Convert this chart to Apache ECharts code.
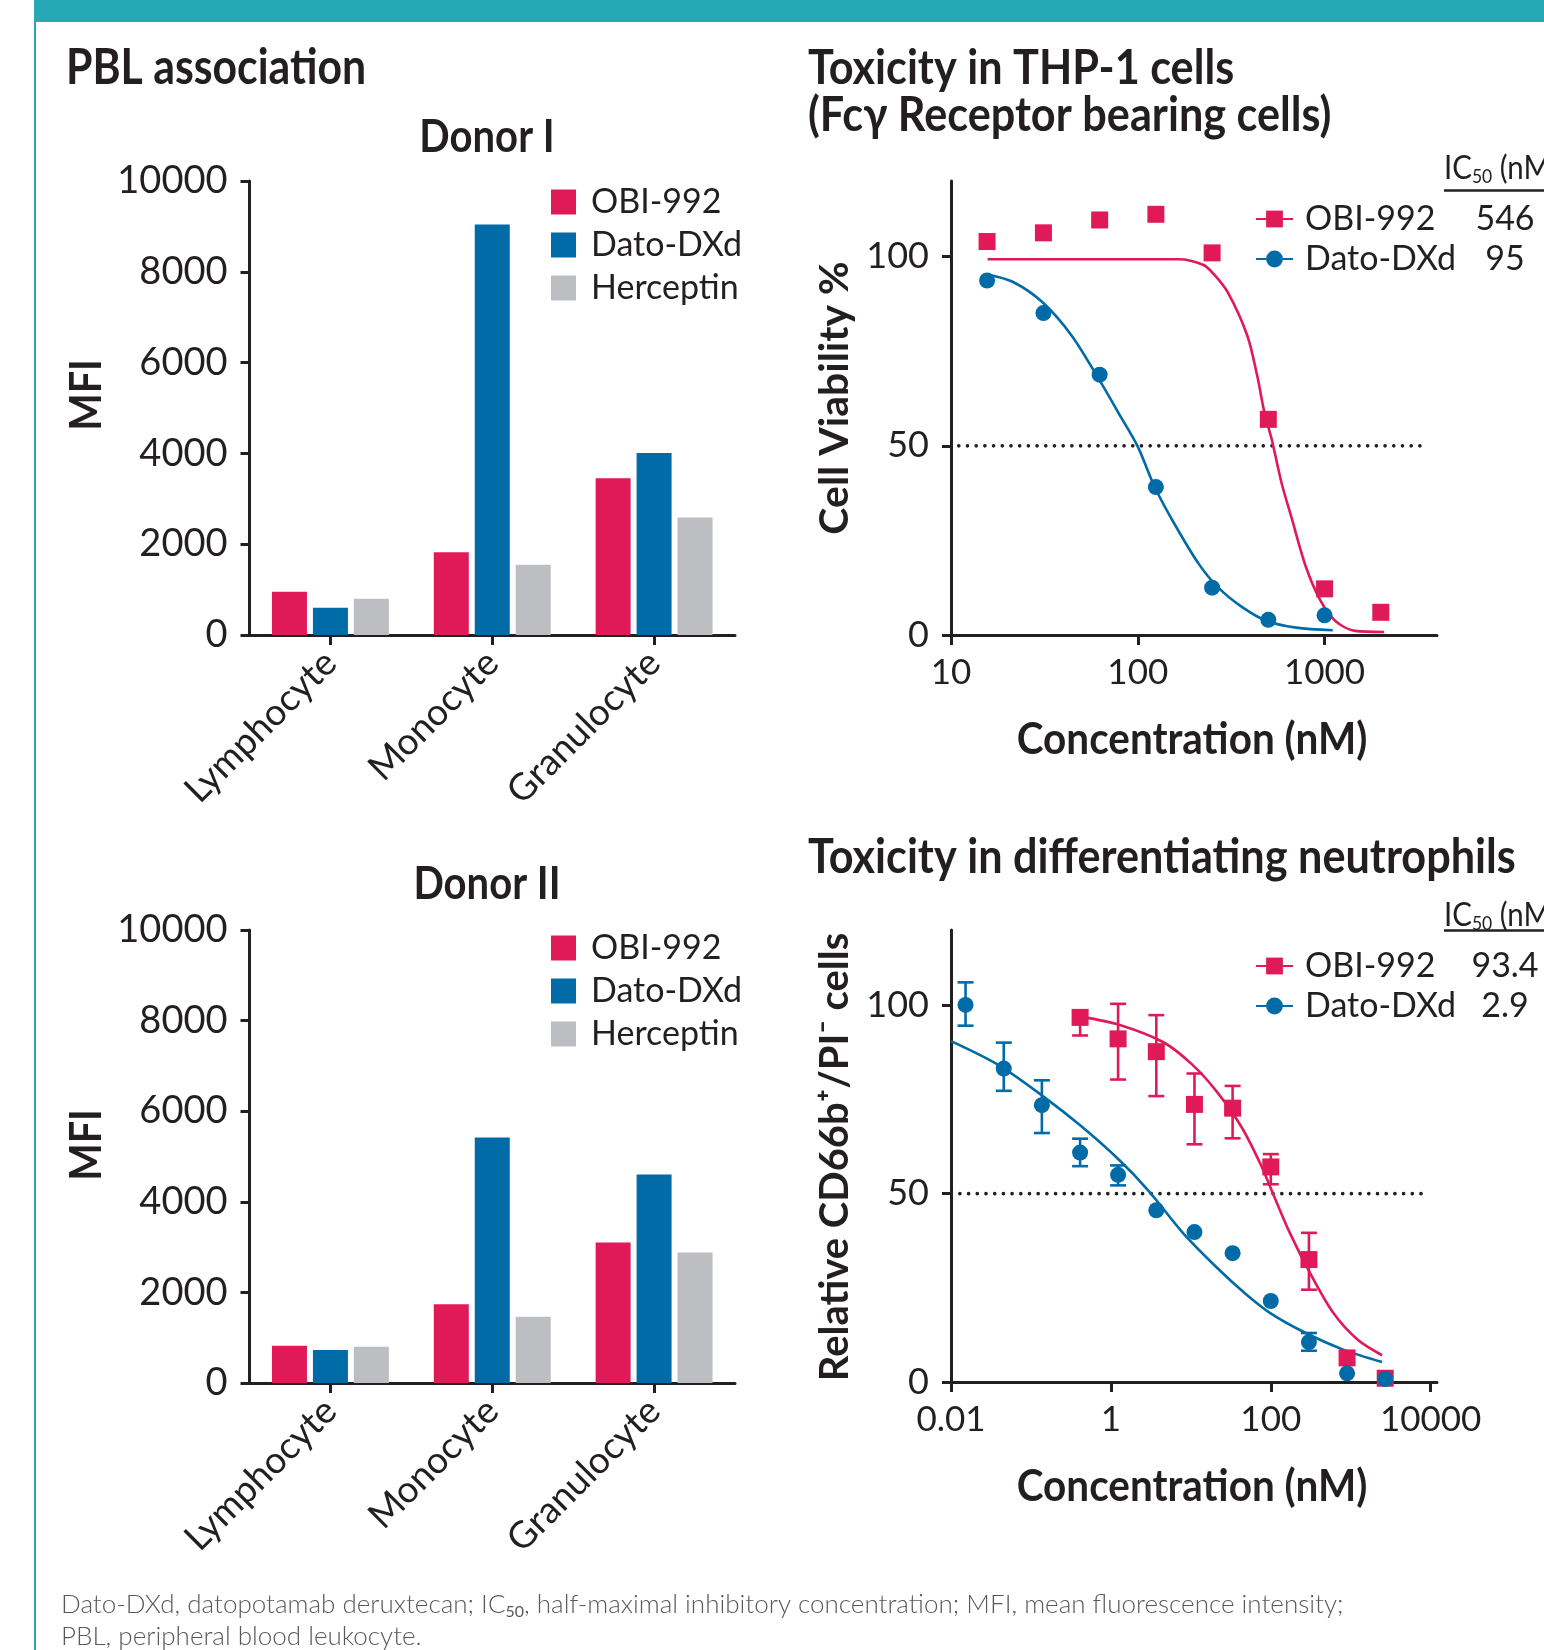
<!DOCTYPE html>
<html>
<head>
<meta charset="utf-8">
<title>OBI-992: PBL association and toxicity</title>
<script src="https://cdn.jsdelivr.net/npm/echarts@6/dist/echarts.min.js"></script>
<style>
  html, body { margin: 0; padding: 0; background: #fff; }
  #chart { width: 1544px; height: 1650px; }
</style>
</head>
<body>
<div id="chart"></div>
<script>
// ---- values ----
const cellTypes = ['Lymphocyte', 'Monocyte', 'Granulocyte']

const donor1Obi = [955, 1820, 3450]
const donor1Dato = [600, 9040, 4010]
const donor1Her = [800, 1550, 2590]

const donor2Obi = [820, 1740, 3100]
const donor2Dato = [730, 5420, 4600]
const donor2Her = [800, 1460, 2880]

// THP-1 cell viability (%), 2-fold dilutions (nM)
const thpObiConc = [15.6, 31.25, 62.5, 125, 250, 500, 1000, 2000]
const thpObi = [104, 106.3, 109.7, 111.2, 101, 57, 12.2, 6]
const thpDatoConc = [15.6, 31.25, 62.5, 125, 250, 500, 1000]
const thpDato = [93.7, 85.1, 68.8, 39.1, 12.5, 4, 5.2]
// fitted curves
const thpObiFitConc = [15.7, 60, 166, 225, 254, 303, 386, 436, 477, 522, 589, 664, 796, 953, 1143, 1453, 2084]
const thpObiFit = [99.3, 99.3, 99.3, 97.8, 95.5, 90.6, 79.1, 68.5, 58.7, 51.6, 40.1, 31.2, 17.9, 9.0, 3.7, 1.1, 0.8]
const thpDatoFitConc = [15.7, 21.5, 30.8, 44.3, 63.5, 80.8, 100, 123, 157, 212, 269, 364, 491, 705, 1107]
const thpDatoFit = [95.3, 93.3, 88.0, 79.1, 66.7, 57.8, 49.8, 39.2, 29.4, 18.8, 12.6, 7.3, 3.7, 1.95, 1.24]
const thpTicks = [10, 100, 1000]
const thpRefConc = [11, 3600]
const thpIc50 = { obi: '546', dato: '95' }

// differentiating neutrophils, relative CD66b+/PI- cells, 3-fold dilutions (nM)
const neuObiConc = [0.412, 1.23, 3.70, 11.1, 33.3, 100, 300, 900, 2700]
const neuObi = [96.8, 91.1, 87.7, 73.7, 72.7, 57.1, 32.5, 6.4, 1.0]
const neuObiErrConc = [0.412, 1.23, 3.70, 11.1, 33.3, 100, 300]
const neuObiErrLow = [92.0, 80.3, 75.9, 63.1, 64.7, 52.5, 24.5]
const neuObiErrHigh = [98.5, 100.4, 97.4, 81.9, 78.6, 60.5, 39.6]
const neuDatoConc = [0.0152, 0.0457, 0.137, 0.412, 1.23, 3.70, 11.1, 33.3, 100, 300, 900, 2700]
const neuDato = [100.1, 83.2, 73.5, 60.9, 55.0, 45.6, 39.8, 34.2, 21.5, 10.6, 2.3, 0.8]
const neuDatoErrConc = [0.0152, 0.0457, 0.137, 0.412, 1.23, 300]
const neuDatoErrLow = [94.6, 77.3, 66.1, 57.3, 52.2, 8.3]
const neuDatoErrHigh = [106.1, 90.1, 80.1, 64.6, 57.5, 13.0]
const neuObiFitConc = [0.42, 1.29, 4.54, 10.5, 21.1, 42.5, 74.5, 113, 173, 302, 608, 1224, 2466]
const neuObiFit = [97.0, 94.8, 90.2, 84.2, 77.1, 67.9, 57.8, 48.7, 39.6, 29.4, 18.3, 11.2, 7.1]
const neuDatoFitConc = [0.01, 0.039, 0.137, 0.42, 1.29, 2.98, 7.94, 21.1, 49, 98.6, 263, 805, 2466]
const neuDatoFit = [90.5, 84.2, 76.1, 68.0, 58.8, 50.7, 39.6, 30.4, 23.3, 18.3, 13.2, 8.6, 5.3]
const neuTicks = [0.01, 1, 100, 10000]
const neuRefConc = [0.0129, 9150]
const neuIc50 = { obi: '93.4', dato: '2.9' }

const pctTicks = [0, 50, 100]
const halfMax = 50

// ---- styles ----
const RED = '#E01A59'
const BLUE = '#006BA6'
const GRAY = '#BDBEC2'
const INK = '#231F20'
const TEAL = '#27A8B5'
const FONT = 'Lato'

const zip = (xs, ...cols) => xs.map((x, i) => [x, ...cols.map(c => c[i])])
const plain = v => String(+(+v).toPrecision(6)) // no thousands separators

const chart = echarts.init(document.getElementById('chart'), null, { renderer: 'canvas' })

const axisLine = { show: true, lineStyle: { color: INK, width: 3 } }
const axisTick = { show: true, length: 9, lineStyle: { color: INK, width: 3 } }
const tickFont = { color: INK, fontFamily: FONT, fontSize: 36 }

function catAxis(grid) {
  return {
    type: 'category', gridIndex: grid, data: cellTypes,
    axisLine, axisTick: { ...axisTick, alignWithLabel: true, length: 10 },
    axisLabel: { ...tickFont, fontSize: 37, rotate: 45, margin: 22 }
  }
}
function mfiAxis(grid) {
  return {
    type: 'value', gridIndex: grid, min: 0, max: 10000, interval: 2000,
    axisLine, axisTick, splitLine: { show: false },
    axisLabel: { ...tickFont, fontSize: 38, margin: 22, formatter: plain }
  }
}
function logAxis(grid, min, max, ticks) {
  return {
    type: 'log', logBase: 10, gridIndex: grid, min, max,
    axisLine, axisTick: { ...axisTick, length: 10, customValues: ticks },
    splitLine: { show: false }, minorTick: { show: false },
    axisLabel: { ...tickFont, fontSize: 35, margin: 20, customValues: ticks, formatter: plain }
  }
}
function pctAxis(grid) {
  return {
    type: 'value', gridIndex: grid, min: 0, max: 120,
    axisLine, axisTick: { ...axisTick, customValues: pctTicks },
    splitLine: { show: false },
    axisLabel: { ...tickFont, margin: 22, customValues: pctTicks, formatter: plain }
  }
}

function bars(idx, name, data, color) {
  return {
    type: 'bar', name, data, xAxisIndex: idx, yAxisIndex: idx,
    barWidth: 35, barGap: '17%', itemStyle: { color }
  }
}
function points(idx, xs, ys, symbol, size, color, z) {
  return {
    type: 'scatter', name: 'pts', data: zip(xs, ys), xAxisIndex: idx, yAxisIndex: idx,
    symbol, symbolSize: size, itemStyle: { color, opacity: 1 }, z
  }
}
function fit(idx, name, xs, ys, symbol, color) {
  return {
    type: 'line', name, data: zip(xs, ys), xAxisIndex: idx, yAxisIndex: idx,
    smooth: 0.3, showSymbol: false, symbol, symbolSize: 17,
    lineStyle: { color, width: 2.6 }, itemStyle: { color }, z: 2
  }
}
function refLine(idx, xs) {
  return {
    type: 'line', name: 'ref', data: xs.map(x => [x, halfMax]), xAxisIndex: idx, yAxisIndex: idx,
    showSymbol: false, silent: true,
    lineStyle: { color: INK, width: 3.6, type: [0.1, 8.6], cap: 'round' }, z: 1
  }
}
function errorBars(idx, xs, lo, hi, color) {
  return {
    type: 'custom', name: 'err', xAxisIndex: idx, yAxisIndex: idx,
    data: zip(xs, lo, hi), encode: { x: 0, y: [1, 2] }, itemStyle: { color }, z: 3,
    renderItem(params, api) {
      const x = api.value(0)
      const a = api.coord([x, api.value(1)])
      const b = api.coord([x, api.value(2)])
      const h = 8
      const style = { stroke: color, lineWidth: 2.6 }
      return {
        type: 'group',
        children: [
          { type: 'line', shape: { x1: a[0], y1: a[1], x2: b[0], y2: b[1] }, style },
          { type: 'line', shape: { x1: a[0] - h, y1: a[1], x2: a[0] + h, y2: a[1] }, style },
          { type: 'line', shape: { x1: b[0] - h, y1: b[1], x2: b[0] + h, y2: b[1] }, style }
        ]
      }
    }
  }
}

function barLegend(top) {
  return {
    data: ['OBI-992', 'Dato-DXd', 'Herceptin'], orient: 'vertical',
    left: 546, top, icon: 'rect', itemWidth: 25, itemHeight: 25, itemGap: 9,
    selectedMode: false,
    textStyle: { color: INK, fontFamily: FONT, fontSize: 34, padding: [0, 0, 0, 10] }
  }
}
function curveLegend(top, ic50) {
  const labels = { 'OBI-992 fit': ['OBI-992', ic50.obi], 'Dato-DXd fit': ['Dato-DXd', ic50.dato] }
  return {
    data: ['OBI-992 fit', 'Dato-DXd fit'], orient: 'vertical',
    left: 1250, top, itemWidth: 37, itemHeight: 21, itemGap: 0, selectedMode: false,
    formatter: n => `{n|${labels[n][0]}}{v|${labels[n][1]}}`,
    textStyle: {
      color: INK, fontFamily: FONT, fontSize: 34, lineHeight: 40,
      rich: {
        n: { fontFamily: FONT, fontSize: 34, color: INK, width: 158, padding: [0, 0, 0, 7] },
        v: { fontFamily: FONT, fontSize: 34, color: INK, width: 84, align: 'center' }
      }
    }
  }
}

function txt(text, x, y, size, opts = {}) {
  return {
    type: 'text', x, y, rotation: opts.rotation || 0, scaleX: opts.scaleX || 1,
    style: {
      text, fill: opts.color || INK,
      font: `${opts.weight || 'bold'} ${size}px ${FONT}`,
      align: opts.align || 'left', verticalAlign: 'middle', rich: opts.rich
    }
  }
}
const subRich = size => ({ s: { fontFamily: FONT, fontSize: size, fontWeight: 'normal', padding: [size * 0.8, 0, 0, 0] } })

chart.setOption({
  animation: false,
  textStyle: { fontFamily: FONT },
  grid: [
    { left: 249.5, top: 181, width: 485.5, height: 454 },
    { left: 249.5, top: 930, width: 485.5, height: 453 },
    { left: 951, top: 181, width: 486, height: 454 },
    { left: 951, top: 930, width: 486, height: 452 }
  ],
  xAxis: [catAxis(0), catAxis(1), logAxis(2, 10, 4000, thpTicks), logAxis(3, 0.01, 12000, neuTicks)],
  yAxis: [mfiAxis(0), mfiAxis(1), pctAxis(2), pctAxis(3)],
  legend: [barLegend(180), barLegend(926), curveLegend(194, thpIc50), curveLegend(941, neuIc50)],
  series: [
    bars(0, 'OBI-992', donor1Obi, RED),
    bars(0, 'Dato-DXd', donor1Dato, BLUE),
    bars(0, 'Herceptin', donor1Her, GRAY),
    bars(1, 'OBI-992', donor2Obi, RED),
    bars(1, 'Dato-DXd', donor2Dato, BLUE),
    bars(1, 'Herceptin', donor2Her, GRAY),

    fit(2, 'OBI-992 fit', thpObiFitConc, thpObiFit, 'rect', RED),
    fit(2, 'Dato-DXd fit', thpDatoFitConc, thpDatoFit, 'circle', BLUE),
    refLine(2, thpRefConc),
    points(2, thpObiConc, thpObi, 'rect', 17, RED, 4),
    points(2, thpDatoConc, thpDato, 'circle', 16, BLUE, 5),

    fit(3, 'OBI-992 fit', neuObiFitConc, neuObiFit, 'rect', RED),
    fit(3, 'Dato-DXd fit', neuDatoFitConc, neuDatoFit, 'circle', BLUE),
    refLine(3, neuRefConc),
    errorBars(3, neuObiErrConc, neuObiErrLow, neuObiErrHigh, RED),
    errorBars(3, neuDatoErrConc, neuDatoErrLow, neuDatoErrHigh, BLUE),
    points(3, neuObiConc, neuObi, 'rect', 17, RED, 4),
    points(3, neuDatoConc, neuDato, 'circle', 16, BLUE, 5)
  ],
  graphic: [
    { type: 'rect', shape: { x: 35, y: 0, width: 1509, height: 22 }, style: { fill: TEAL }, silent: true },
    { type: 'line', shape: { x1: 35, y1: 0, x2: 35, y2: 1650 }, style: { stroke: TEAL, lineWidth: 2 }, silent: true },

    txt('PBL association', 66, 68, 50, { scaleX: 0.855 }),
    txt('Donor I', 487, 137, 45, { align: 'center', scaleX: 0.89 }),
    txt('Donor II', 487, 884, 45, { align: 'center', scaleX: 0.89 }),
    txt('MFI', 87, 395, 44, { align: 'center', rotation: Math.PI / 2, scaleX: 0.9 }),
    txt('MFI', 87, 1145, 44, { align: 'center', rotation: Math.PI / 2, scaleX: 0.9 }),

    txt('Toxicity in THP-1 cells', 808, 69, 48, { scaleX: 0.9 }),
    txt('(Fcγ Receptor bearing cells)', 808, 116, 48, { scaleX: 0.9 }),
    txt('Toxicity in differentiating neutrophils', 808, 858, 48, { scaleX: 0.9 }),
    txt('Cell Viability %', 835, 398, 41, { align: 'center', rotation: Math.PI / 2 }),
    txt('Relative CD66b⁺/PI⁻ cells', 835, 1157, 40, { align: 'center', rotation: Math.PI / 2 }),
    txt('Concentration (nM)', 1192, 740, 44, { align: 'center', scaleX: 0.92 }),
    txt('Concentration (nM)', 1192, 1487, 44, { align: 'center', scaleX: 0.92 }),

    txt('IC{s|50} (nM)', 1444, 169, 32, { weight: 'normal', rich: subRich(19), scaleX: 0.92 }),
    { type: 'line', shape: { x1: 1444, y1: 190.5, x2: 1544, y2: 190.5 }, style: { stroke: INK, lineWidth: 2.5 } },
    txt('IC{s|50} (nM)', 1444, 916, 32, { weight: 'normal', rich: subRich(19), scaleX: 0.92 }),
    { type: 'line', shape: { x1: 1444, y1: 930.5, x2: 1544, y2: 930.5 }, style: { stroke: INK, lineWidth: 2.5 } },

    txt('Dato-DXd, datopotamab deruxtecan; IC{s|50}, half-maximal inhibitory concentration; MFI, mean fluorescence intensity;',
      61, 1605, 26, { weight: 300, color: '#58595B', rich: subRich(16) }),
    txt('PBL, peripheral blood leukocyte.', 61, 1637, 26, { weight: 300, color: '#58595B' })
  ]
})
</script>
</body>
</html>
